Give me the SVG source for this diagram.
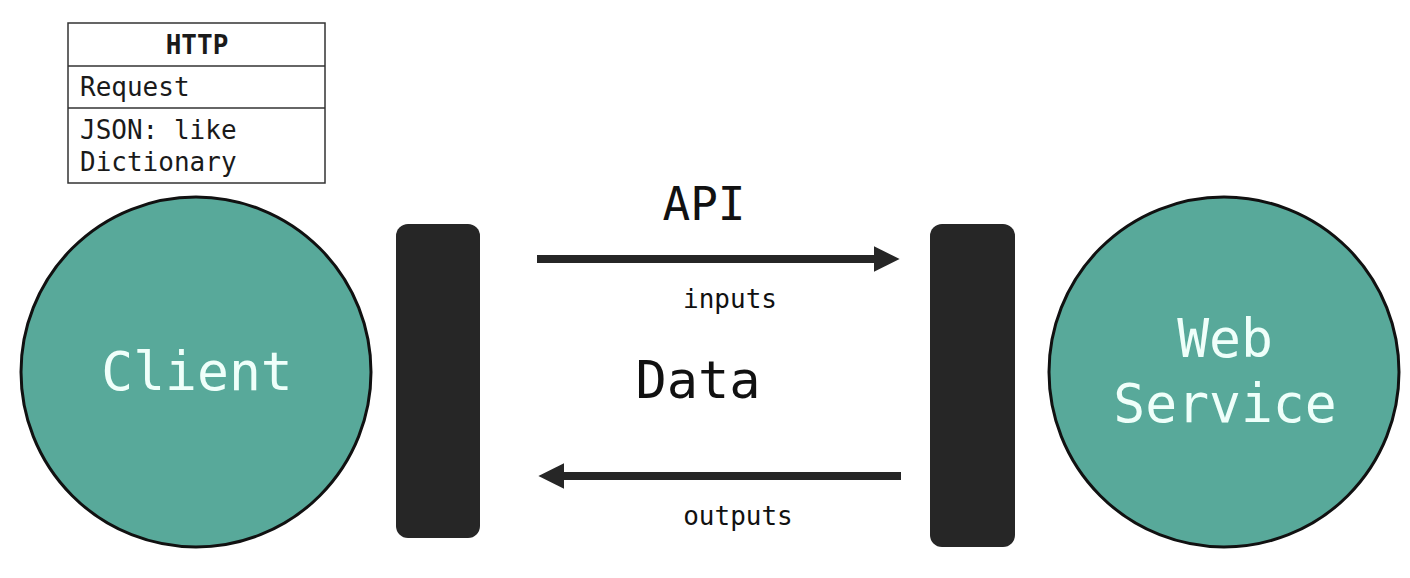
<svg xmlns="http://www.w3.org/2000/svg" width="1410" height="578" viewBox="0 0 1410 578">
  <style>
    .mono { font-family: "DejaVu Sans Mono", "Liberation Mono", monospace; }
    .node { fill: #58A99A; stroke: #111111; stroke-width: 3; }
    .nodeText { font-size: 53px; fill: #EFFFFA; text-anchor: middle; }
    .bar { fill: #262626; }
    .conn { stroke: #262626; stroke-width: 8; fill: none; }
    .lbl { fill: #111111; text-anchor: middle; }
    .box { fill: #FFFFFF; stroke: #333333; stroke-width: 1.5; }
    .boxText { font-size: 26px; fill: #1a1a1a; }
  </style>
  <defs>
    <marker id="arrow" viewBox="0 0 10 10" refX="0" refY="5" markerWidth="3.2" markerHeight="3.2" orient="auto" markerUnits="strokeWidth">
      <path d="M0,0 L10,5 L0,10 Z" fill="#262626"/>
    </marker>
  </defs>
  <rect width="1410" height="578" fill="#FFFFFF"/>

  <g id="http-box" class="mono">
    <rect class="box" x="68" y="23" width="257" height="160"/>
    <line x1="68" y1="66" x2="325" y2="66" stroke="#333333" stroke-width="1.5"/>
    <line x1="68" y1="108" x2="325" y2="108" stroke="#333333" stroke-width="1.5"/>
    <text class="boxText" x="197" y="54" text-anchor="middle" font-weight="600">HTTP</text>
    <text class="boxText" x="80" y="96">Request</text>
    <text class="boxText" x="80" y="139">JSON: like</text>
    <text class="boxText" x="80" y="171">Dictionary</text>
  </g>

  <g id="client" class="mono">
    <circle class="node" cx="196" cy="372" r="175"/>
    <text class="nodeText" x="197" y="390">Client</text>
  </g>

  <g id="web-service" class="mono">
    <circle class="node" cx="1224" cy="372" r="175"/>
    <text class="nodeText" x="1225" y="357">Web</text>
    <text class="nodeText" x="1225" y="422">Service</text>
  </g>

  <g id="client-gateway">
    <rect class="bar" x="396" y="224" width="84" height="314" rx="12"/>
  </g>

  <g id="service-gateway">
    <rect class="bar" x="930" y="224" width="85" height="323" rx="12"/>
  </g>

  <g id="connectors">
    <line class="conn" x1="537" y1="259" x2="874" y2="259" marker-end="url(#arrow)"/>
    <line class="conn" x1="901" y1="476" x2="564" y2="476" marker-end="url(#arrow)"/>
  </g>

  <g id="labels" class="mono">
    <text class="lbl" x="704" y="220" font-size="46px">API</text>
    <text class="lbl" x="730" y="308" font-size="26px">inputs</text>
    <text class="lbl" x="698" y="398" font-size="52px">Data</text>
    <text class="lbl" x="738" y="525" font-size="26px">outputs</text>
  </g>
</svg>
